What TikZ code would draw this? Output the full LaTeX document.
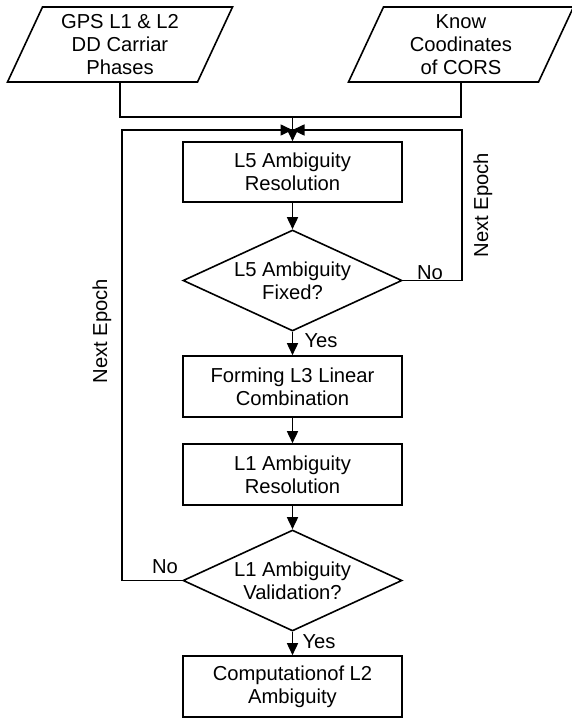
\documentclass[tikz,border=0pt]{standalone}
\usepackage{fontspec}
\setmainfont{Liberation Sans}
\usetikzlibrary{shapes.geometric,arrows.meta}
\begin{document}
\begin{tikzpicture}[x=1pt,y=-1pt,
  font=\fontsize{20.2}{23}\selectfont,
  line width=1.6pt,
  box/.style={draw, minimum width=219pt, minimum height=60pt, align=center, inner sep=0pt},
  dec/.style={draw, diamond, aspect=2.14, minimum width=219pt, minimum height=101pt, align=center, inner sep=0pt},
  io/.style={align=center, inner sep=0pt, minimum width=190pt, minimum height=75pt},
  arr/.style={-{Triangle[length=12pt,width=11pt]}},
  lbl/.style={inner sep=0pt, anchor=base}]
\useasboundingbox (0,0) rectangle (571,718);
\fill[white] (0,0) rectangle (571,718);

% inputs
\node[io] (in1) at (120,44.5) {GPS L1 \& L2\\DD Carriar\\Phases};
\node[io] (in2) at (461,44.5) {Know\\Coodinates\\of CORS};
\draw[shift={(in1.center)}] (-77.5,-37.5) -- (112.5,-37.5) -- (77.5,37.5) -- (-112.5,37.5) -- cycle;
\draw[shift={(in2.center)}] (-77.5,-37.5) -- (112.5,-37.5) -- (77.5,37.5) -- (-112.5,37.5) -- cycle;

% process
\node[box] (b1) at (292.5,172) {L5 Ambiguity\\Resolution};
\node[dec] (d1) at (292.5,280.5) {L5 Ambiguity\\Fixed?};
\node[box, minimum height=61pt] (b2) at (292.5,386.5) {Forming L3 Linear\\Combination};
\node[box, minimum height=61pt] (b3) at (292.5,474.5) {L1 Ambiguity\\Resolution};
\node[dec] (d2) at (292.5,580.5) {L1 Ambiguity\\Validation?};
\node[box, minimum height=61pt] (b4) at (292.5,686.5) {Computationof L2\\Ambiguity};

% junction coordinates
\coordinate (j) at (292.5,117);
\coordinate (jm) at (292.5,130);
\coordinate (rt) at (462,130);
\coordinate (lt) at (122,130);

% connectors
\draw (in1.south) |- (j);
\draw (in2.south) |- (j);
\draw[arr] (j) -- (b1.north);
\draw[arr] (b1) -- (d1);
\draw[arr] (d1) -- (b2);
\draw[arr] (b2) -- (b3);
\draw[arr] (b3) -- (d2);
\draw[arr] (d2) -- (b4);
\draw[arr] (d1.east) -| (rt) -- (jm);
\draw[arr] (d2.west) -| (lt) -- (jm);

% labels
\node[lbl] (no1) at (430,279) {No};
\node[lbl] (yes1) at (321,347) {Yes};
\node[lbl] (no2) at (165,573) {No};
\node[lbl] (yes2) at (319,648) {Yes};
\node[lbl, rotate=90] (ne1) at (488,205) {Next Epoch};
\node[lbl, rotate=90] (ne2) at (107,331) {Next Epoch};
\end{tikzpicture}
\end{document}
